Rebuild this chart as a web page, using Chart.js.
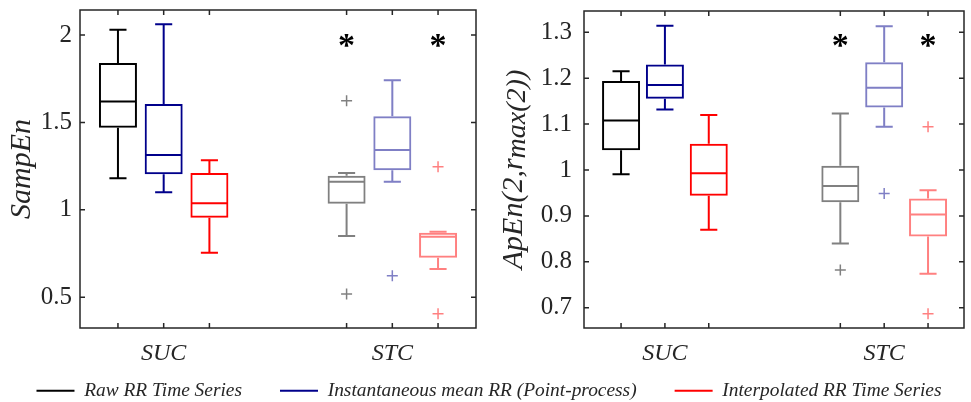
<!DOCTYPE html>
<html><head><meta charset="utf-8">
<script src="https://cdn.jsdelivr.net/npm/chart.js@4/dist/chart.umd.min.js"></script>
<style>
html,body{margin:0;padding:0;background:#fff;}
#wrap{position:relative;width:971px;height:402px;overflow:hidden;background:#fff;}
.c{position:absolute;}
</style></head><body>
<div id="wrap">
<div class="c" style="left:-61px;top:343px;width:1100px;height:200px"><canvas id="leg"></canvas></div>
<div class="c" style="left:0;top:0;width:490px;height:372px"><canvas id="left"></canvas></div>
<div class="c" style="left:490px;top:0;width:481px;height:372px"><canvas id="right"></canvas></div>
</div>
<script>
// ---------- data ----------
const categories = ['SUC', 'STC'];
const seriesNames = ['Raw RR Time Series', 'Instantaneous mean RR (Point-process)', 'Interpolated RR Time Series'];
// five-number summaries per category: [lower whisker, Q1, median, Q3, upper whisker]
const sampEnRaw    = [[1.18, 1.47, 1.62, 1.84, 2.03], [0.85, 1.035, 1.16, 1.195, 1.21]];
const sampEnInst   = [[1.10, 1.203, 1.313, 1.605, 2.061], [1.161, 1.226, 1.342, 1.535, 1.741]];
const sampEnInterp = [[0.755, 0.955, 1.038, 1.21, 1.283], [0.661, 0.726, 0.846, 0.869, 0.875]];
const sampEnRawOut    = [[], [1.624, 0.518]];
const sampEnInstOut   = [[], [0.623]];
const sampEnInterpOut = [[], [1.247, 0.405]];
const apEnRaw    = [[0.991, 1.043, 1.108, 1.194, 1.215], [0.840, 0.930, 0.965, 1.009, 1.123]];
const apEnInst   = [[1.132, 1.155, 1.185, 1.230, 1.314], [1.094, 1.136, 1.179, 1.235, 1.313]];
const apEnInterp = [[0.870, 0.944, 0.993, 1.057, 1.120], [0.774, 0.855, 0.903, 0.938, 0.956]];
const apEnRawOut    = [[], [0.782]];
const apEnInstOut   = [[], [0.949]];
const apEnInterpOut = [[], [1.094, 0.687]];
const sampEnTicks = [0.5, 1, 1.5, 2];
const apEnTicks = [0.7, 0.8, 0.9, 1, 1.1, 1.2, 1.3];
const significantSeries = [0, 2];   // STC boxes marked with *
const sampEnStarLevel = 1.97;
const apEnStarLevel = 1.283;
const sampEnTitle = ['SampEn', ''];
const apEnTitle = ['ApEn(2,r', 'max(2))'];

// ---------- styling ----------
const darkColors = ['#000000', '#00008B', '#FF0000'];
const lightColors = ['#808080', '#7F7FC5', '#FF8080'];
const axisColor = '#262626';
const serif = '"Liberation Serif", "Times New Roman", serif';
function colorFor(g, s) { return g === 0 ? darkColors[s] : lightColors[s]; }
function boxPos(g, s) { return 1 + g * 5 + s; }

function makePanel(id, cfg) {
  const datasets = [];
  for (let s = 0; s < 3; s++) {
    datasets.push({
      type: 'bar', label: seriesNames[s],
      data: categories.map((c, g) => ({x: boxPos(g, s), y: [cfg.stats[s][g][1], cfg.stats[s][g][3]]})),
      backgroundColor: 'rgba(0,0,0,0)',
      borderColor: categories.map((c, g) => colorFor(g, s)),
      borderWidth: 2, borderSkipped: false, barThickness: 38, grouped: false, inflateAmount: 0
    });
  }
  for (let s = 0; s < 3; s++) {
    const pts = [], cols = [];
    categories.forEach((c, g) => cfg.outliers[s][g].forEach(v => { pts.push({x: boxPos(g, s), y: v}); cols.push(colorFor(g, s)); }));
    datasets.push({type: 'scatter', label: seriesNames[s] + ' outliers', data: pts,
      pointStyle: 'cross', pointRadius: 5.5, pointBorderWidth: 1.5,
      pointBorderColor: cols, pointBackgroundColor: cols, showLine: false});
  }
  const decor = {
    id: 'decor',
    afterDatasetsDraw(chart) {
      const ctx = chart.ctx, ys = chart.scales.y, xs = chart.scales.x, a = chart.chartArea;
      ctx.save();
      ctx.lineWidth = 2;
      for (let s = 0; s < 3; s++) {
        const meta = chart.getDatasetMeta(s);
        categories.forEach((c, g) => {
          const el = meta.data[g];
          const st = cfg.stats[s][g];
          const x = el.x, hw = el.width / 2, cw = el.width * 0.225;
          const p = st.map(v => ys.getPixelForValue(v));
          ctx.strokeStyle = colorFor(g, s);
          ctx.beginPath();
          ctx.moveTo(x, p[3]); ctx.lineTo(x, p[4]);
          ctx.moveTo(x - cw, p[4]); ctx.lineTo(x + cw, p[4]);
          ctx.moveTo(x, p[1]); ctx.lineTo(x, p[0]);
          ctx.moveTo(x - cw, p[0]); ctx.lineTo(x + cw, p[0]);
          ctx.moveTo(x - hw + 1, p[2]); ctx.lineTo(x + hw - 1, p[2]);
          ctx.stroke();
        });
      }
      // significance asterisks
      ctx.fillStyle = '#000';
      ctx.font = 'bold 34px ' + serif;
      ctx.textAlign = 'center'; ctx.textBaseline = 'alphabetic';
      const m = ctx.measureText('*');
      const off = (m.actualBoundingBoxAscent - m.actualBoundingBoxDescent) / 2;
      significantSeries.forEach(s => {
        ctx.fillText('*', xs.getPixelForValue(boxPos(1, s)), ys.getPixelForValue(cfg.starLevel) + off);
      });
      // frame and inward ticks
      ctx.strokeStyle = axisColor; ctx.lineWidth = 1.5;
      ctx.strokeRect(a.left, a.top, a.right - a.left, a.bottom - a.top);
      ctx.beginPath();
      categories.forEach((c, g) => seriesNames.forEach((n, s) => {
        const px = xs.getPixelForValue(boxPos(g, s));
        ctx.moveTo(px, a.bottom); ctx.lineTo(px, a.bottom - 5);
        ctx.moveTo(px, a.top); ctx.lineTo(px, a.top + 5);
      }));
      cfg.ticks.forEach(v => {
        const py = ys.getPixelForValue(v);
        ctx.moveTo(a.left, py); ctx.lineTo(a.left + 5, py);
        ctx.moveTo(a.right, py); ctx.lineTo(a.right - 5, py);
      });
      ctx.stroke();
      // y-axis title
      ctx.translate(cfg.titleX, (a.top + a.bottom) / 2);
      ctx.rotate(-Math.PI / 2);
      const f1 = 'italic 30px ' + serif, f2 = 'italic 28px ' + serif;
      ctx.font = f1; const w1 = ctx.measureText(cfg.title[0]).width;
      ctx.font = f2; const w2 = cfg.title[1] ? ctx.measureText(cfg.title[1]).width : 0;
      const x0 = -(w1 + w2) / 2;
      ctx.fillStyle = axisColor; ctx.textAlign = 'left'; ctx.textBaseline = 'middle';
      ctx.font = f1; ctx.fillText(cfg.title[0], x0, 0);
      if (cfg.title[1]) { ctx.font = f2; ctx.fillText(cfg.title[1], x0 + w1, 4); }
      ctx.restore();
    }
  };
  const noPad = sc => { sc.paddingTop = 0; sc.paddingBottom = 0; sc.paddingLeft = 0; sc.paddingRight = 0; };
  return new Chart(document.getElementById(id), {
    type: 'bar',
    data: {datasets},
    options: {
      responsive: true, maintainAspectRatio: false, animation: false,
      layout: {padding: cfg.padding},
      plugins: {legend: {display: false}, tooltip: {enabled: false}},
      scales: {
        x: {type: 'linear', min: cfg.xMin, max: cfg.xMax, offset: false,
          grid: {display: false, drawTicks: false, tickLength: 0}, border: {display: false},
          afterBuildTicks: sc => { sc.ticks = categories.map((c, g) => ({value: boxPos(g, 1)})); },
          afterFit: sc => { sc.height = 42; noPad(sc); },
          ticks: {autoSkip: false, maxRotation: 0, padding: 11, color: axisColor,
            font: {family: serif, style: 'italic', size: 24},
            callback: (v, i) => categories[i]}},
        y: {type: 'linear', min: cfg.yMin, max: cfg.yMax,
          grid: {display: false, drawTicks: false, tickLength: 0}, border: {display: false},
          afterBuildTicks: sc => { sc.ticks = cfg.ticks.map(v => ({value: v})); },
          afterFit: sc => { sc.width = cfg.yWidth; noPad(sc); },
          ticks: {padding: cfg.tickPad, color: axisColor, font: {family: serif, size: 25},
            callback: v => String(v)}}
      }
    },
    plugins: [decor]
  });
}

makePanel('left', {
  stats: [sampEnRaw, sampEnInst, sampEnInterp],
  outliers: [sampEnRawOut, sampEnInstOut, sampEnInterpOut],
  ticks: sampEnTicks, starLevel: sampEnStarLevel, title: sampEnTitle,
  yMin: 0.324, yMax: 2.143, xMin: 0.17, xMax: 8.83,
  padding: {left: 0, right: 14, top: 10, bottom: 2}, yWidth: 80, tickPad: 8, titleX: 22
});
makePanel('right', {
  stats: [apEnRaw, apEnInst, apEnInterp],
  outliers: [apEnRawOut, apEnInstOut, apEnInterpOut],
  ticks: apEnTicks, starLevel: apEnStarLevel, title: apEnTitle,
  yMin: 0.6558, yMax: 1.3464, xMin: 0.155, xMax: 8.82,
  padding: {left: 0, right: 0.5, top: 11, bottom: 2}, yWidth: 94, tickPad: 12, titleX: 24
});

new Chart(document.getElementById('leg'), {
  type: 'bar',
  data: {datasets: seriesNames.map((n, i) => ({label: n, data: [], backgroundColor: darkColors[i], borderColor: darkColors[i], borderWidth: 0}))},
  options: {
    responsive: true, maintainAspectRatio: false, animation: false,
    scales: {x: {display: false}, y: {display: false}},
    plugins: {tooltip: {enabled: false},
      legend: {display: true, position: 'top', align: 'center',
        labels: {boxWidth: 38, boxHeight: 2, padding: 38, color: axisColor,
          font: {family: serif, style: 'italic', size: 19.4},
          generateLabels: ch => ch.data.datasets.map((d, i) => ({text: d.label, fillStyle: d.borderColor, strokeStyle: d.borderColor, lineWidth: 0, hidden: false, datasetIndex: i, fontColor: axisColor}))}}}
  }
});
</script>
</body></html>
